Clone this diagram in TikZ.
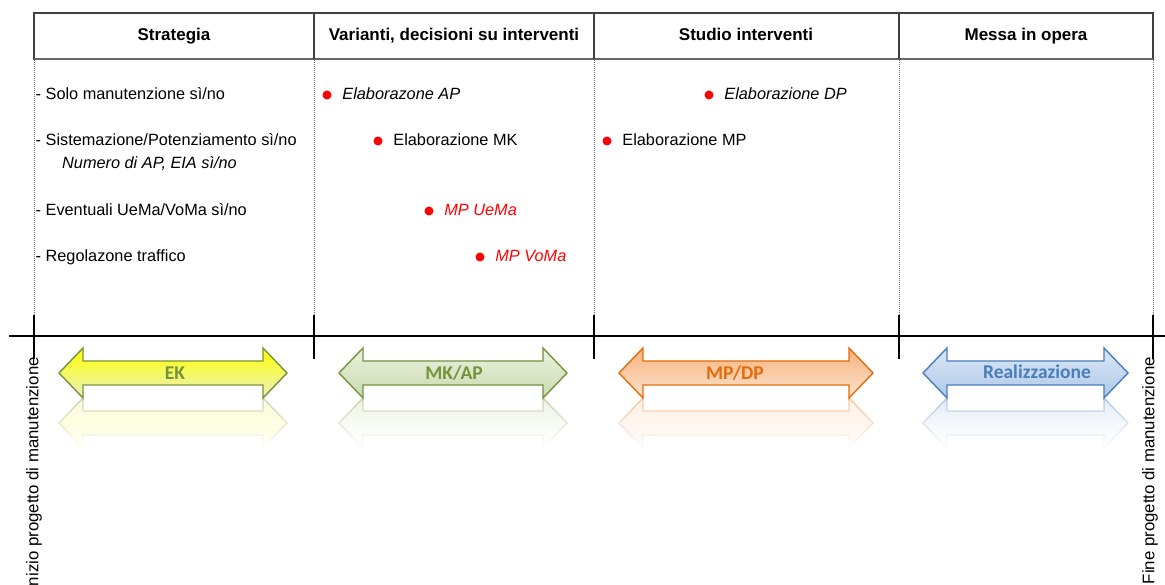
\documentclass[tikz,border=0pt]{standalone}
\usepackage{fontspec}
\setmainfont{Liberation Sans}
\newfontfamily\calibri{Carlito}
\usetikzlibrary{positioning,fadings}

\definecolor{ekline}{HTML}{76923C}
\definecolor{ektop}{HTML}{FFFF00}
\definecolor{ekbot}{HTML}{EAF0C4}
\definecolor{mktop}{HTML}{EBF1DE}
\definecolor{mkbot}{HTML}{C9DAAF}
\definecolor{mpline}{HTML}{E46C0A}
\definecolor{mptop}{HTML}{F7B27C}
\definecolor{mpbot}{HTML}{FCE4D0}
\definecolor{reline}{HTML}{4A7EBB}
\definecolor{retop}{HTML}{DCE7F5}
\definecolor{rebot}{HTML}{ADC8E8}

\tikzfading[name=mirror, top color=transparent!62, middle color=transparent!92, bottom color=transparent!100]

% double block arrow with its faded reflection: left tip, right tip, line, top fill, bottom fill
\newcommand{\phasearrow}[5]{%
  \shade[draw=#3, line width=1.4pt, top color=#4, bottom color=#5]
    (#1,373) -- ({#1+24},348) -- ({#1+24},361) -- ({#2-24},361) -- ({#2-24},348)
    -- (#2,373) -- ({#2-24},398) -- ({#2-24},385) -- ({#1+24},385) -- ({#1+24},398) -- cycle;
  \shade[draw=#3, line width=1.4pt, top color=#5, bottom color=#4, path fading=mirror]
    (#1,423) -- ({#1+24},448) -- ({#1+24},435) -- ({#2-24},435) -- ({#2-24},448)
    -- (#2,423) -- ({#2-24},398) -- ({#2-24},411) -- ({#1+24},411) -- ({#1+24},398) -- cycle;
}

\begin{document}
\begin{tikzpicture}[x=1pt,y=-1pt,
    head/.style={font=\fontsize{17}{20}\selectfont\bfseries,inner sep=0pt,
      text height=12pt,text depth=3.5pt},
    item/.style={font=\fontsize{16.3}{20}\selectfont,inner sep=0pt,anchor=west,
      text height=12pt,text depth=3.5pt},
    reddot/.style={circle,fill=red,inner sep=0pt,minimum size=9pt},
    phase/.style={font=\calibri\fontsize{19.5}{22}\selectfont\bfseries,inner sep=0pt},
    side/.style={font=\fontsize{16.8}{20}\selectfont,inner sep=0pt,rotate=90,anchor=east},
    guide/.style={black!55,line width=0.8pt,dash pattern=on 1pt off 1pt},
    tick/.style={black,line width=2pt}]
  \clip (0,0) rectangle (1165,585);
  % header row
  \draw[black!75,line width=1.3pt] (34,13) rectangle (1153,59);
  \draw[black!60,line width=1.8pt] (34,59) -- (1153,59);
  \foreach \x in {314,594,899}
    \draw[black!75,line width=1.3pt] (\x,13) -- (\x,59);
  \node[head] (hstrat) at (174,36) {Strategia};
  \node[head] (hvar) at (454,36) {Varianti, decisioni su interventi};
  \node[head] (hstud) at (746,36) {Studio interventi};
  \node[head] (hmessa) at (1026,36) {Messa in opera};
  % column guides and time axis
  \foreach \x in {34,314,594,899,1153} {
    \draw[guide] (\x,60) -- (\x,315);
    \draw[tick] (\x,315) -- (\x,359);
  }
  \draw[black,line width=2.6pt] (9,336) -- (1165,336);
  \node[side] (inizio) at (34,357) {Inizio progetto di manutenzione};
  \node[side] (fine) at (1150,357) {Fine progetto di manutenzione};
  % strategy column
  \node[item] (solo) at (35.5,95) {- Solo manutenzione sì/no};
  \node[item] (sist) at (35.5,141) {- Sistemazione/Potenziamento sì/no};
  \node[item] (numero) at (62,164) {\itshape Numero di AP, EIA sì/no};
  \node[item] (event) at (35.5,211) {- Eventuali UeMa/VoMa sì/no};
  \node[item] (regol) at (35.5,257) {- Regolazone traffico};
  % milestones
  \node[reddot] (dap) at (327,95) {};
  \node[item,right=10.5pt of dap] (tap) {\itshape Elaborazone AP};
  \node[reddot] (dmk) at (378,141) {};
  \node[item,right=10.5pt of dmk] (tmk) {Elaborazione MK};
  \node[reddot] (duema) at (429,211) {};
  \node[item,right=10.5pt of duema,text=red] (tuema) {\itshape MP UeMa};
  \node[reddot] (dvoma) at (480,257) {};
  \node[item,right=10.5pt of dvoma,text=red] (tvoma) {\itshape MP VoMa};
  \node[reddot] (ddp) at (709,95) {};
  \node[item,right=10.5pt of ddp] (tdp) {\itshape Elaborazione DP};
  \node[reddot] (dmp) at (607,141) {};
  \node[item,right=10.5pt of dmp] (tmp) {Elaborazione MP};
  % phase arrows
  \phasearrow{59}{287}{ekline}{ektop}{ekbot}
  \phasearrow{339}{567}{ekline}{mktop}{mkbot}
  \phasearrow{619}{873}{mpline}{mptop}{mpbot}
  \phasearrow{923}{1128}{reline}{retop}{rebot}
  \node[phase,text=ekline] (ek) at (175,373) {EK};
  \node[phase,text=ekline] (mkap) at (454,373) {MK/AP};
  \node[phase,text=mpline] (mpdp) at (735,373) {MP/DP};
  \node[phase,text=reline] (real) at (1037,372) {Realizzazione};
\end{tikzpicture}
\end{document}
